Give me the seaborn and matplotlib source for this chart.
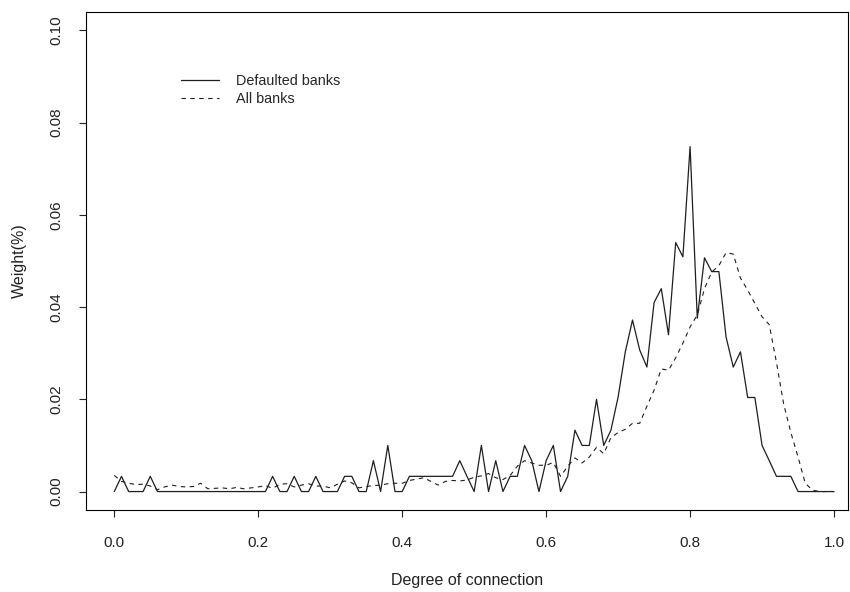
import numpy as np
import pandas as pd
import matplotlib
matplotlib.use("Agg")
from matplotlib import pyplot as plt
import seaborn as sns

# degree of connection grid, step 0.01
degree = np.round(np.arange(0, 101) / 100, 2)

defaulted = [
    0, 0.0033, 0, 0, 0, 0.0033, 0, 0, 0, 0,
    0, 0, 0, 0, 0, 0, 0, 0, 0, 0,
    0, 0, 0.0033, 0, 0, 0.0033, 0, 0, 0.0033, 0,
    0, 0, 0.0033, 0.0033, 0, 0, 0.0067, 0, 0.01, 0,
    0, 0.0033, 0.0033, 0.0033, 0.0033, 0.0033, 0.0033, 0.0033, 0.0067, 0.0033,
    0, 0.01, 0, 0.0067, 0, 0.0033, 0.0033, 0.01, 0.0067, 0,
    0.0067, 0.01, 0, 0.0033, 0.0133, 0.01, 0.01, 0.02, 0.01, 0.0133,
    0.0205, 0.0303, 0.0372, 0.0307, 0.027, 0.041, 0.044, 0.034, 0.054, 0.0509,
    0.0748, 0.0376, 0.0507, 0.0477, 0.0477, 0.0335, 0.027, 0.0303, 0.0204, 0.0204,
    0.01, 0.0067, 0.0033, 0.0033, 0.0033, 0, 0, 0, 0, 0, 0,
]

all_banks = [
    0.0035, 0.0022, 0.0018, 0.0015, 0.0016, 0.0012, 0.0004, 0.0010, 0.0014, 0.0011,
    0.0010, 0.0011, 0.0018, 0.0006, 0.0007, 0.0008, 0.0006, 0.0009, 0.0006, 0.0008,
    0.0010, 0.0013, 0.0007, 0.0016, 0.0017, 0.0010, 0.0014, 0.0017, 0.0012, 0.0012,
    0.0008, 0.0016, 0.0023, 0.0019, 0.0008, 0.0011, 0.0013, 0.0014, 0.0017, 0.0018,
    0.0018, 0.0024, 0.0027, 0.0030, 0.0022, 0.0014, 0.0022, 0.0024, 0.0023, 0.0025,
    0.0031, 0.0034, 0.0039, 0.0030, 0.0026, 0.0035, 0.0055, 0.0067, 0.0062, 0.0057,
    0.0057, 0.0063, 0.0033, 0.0055, 0.0073, 0.0062, 0.0075, 0.0096, 0.0082, 0.0117,
    0.0128, 0.0135, 0.0148, 0.0148, 0.0185, 0.0220, 0.0266, 0.0263, 0.0290, 0.0322,
    0.0357, 0.0383, 0.0440, 0.0476, 0.0490, 0.0518, 0.0515, 0.0463, 0.0437, 0.0408,
    0.0379, 0.0362, 0.0280, 0.0190, 0.0128, 0.0075, 0.0018, 0.0003, 0, 0, 0,
]

x_ticks = [0.0, 0.2, 0.4, 0.6, 0.8, 1.0]
y_ticks = [0.00, 0.02, 0.04, 0.06, 0.08, 0.10]

df = pd.DataFrame({'degree': degree, 'defaulted': defaulted, 'all': all_banks})

sns.set_style("ticks")
plt.rcParams['font.family'] = ['Liberation Sans', 'DejaVu Sans']

fig = plt.figure(figsize=(8.5, 5.92), dpi=100)
ax = fig.add_axes([85.5 / 850, 82 / 592, (848 - 85.5) / 850, (510 - 12) / 592])

sns.lineplot(x='degree', y='defaulted', data=df, ax=ax, color='#1e1e1e',
             lw=0.9, label='Defaulted banks')
sns.lineplot(x='degree', y='all', data=df, ax=ax, color='#1e1e1e',
             lw=0.8, linestyle=(0, (4, 4)), label='All banks')

ax.set_xlim(-0.04, 1.0194)
ax.set_ylim(-0.004, 0.104)
ax.set_xticks(x_ticks)
ax.set_xticklabels([f'{v:.1f}' for v in x_ticks])
ax.set_yticks(y_ticks)
ax.set_yticklabels([f'{v:.2f}' for v in y_ticks], rotation=90, va='center')

for s in ax.spines.values():
    s.set_visible(True)
    s.set_color('black')
    s.set_linewidth(0.8)
ax.tick_params(axis='both', direction='out', length=5, width=0.8,
               labelsize=11, colors='#222222')
ax.tick_params(axis='x', pad=14)
ax.tick_params(axis='y', pad=11)

ax.set_xlabel('Degree of connection', fontsize=11.5, labelpad=16, color='#222222')
ax.set_ylabel('Weight(%)', fontsize=11.5, labelpad=16, color='#222222')

ax.legend(loc='upper left', bbox_to_anchor=(0.125, 0.876), frameon=False,
          fontsize=10.4, handlelength=2.64, handletextpad=1.2,
          labelspacing=0.32, borderpad=0, borderaxespad=0)

fig.savefig('out.png', dpi=100)
